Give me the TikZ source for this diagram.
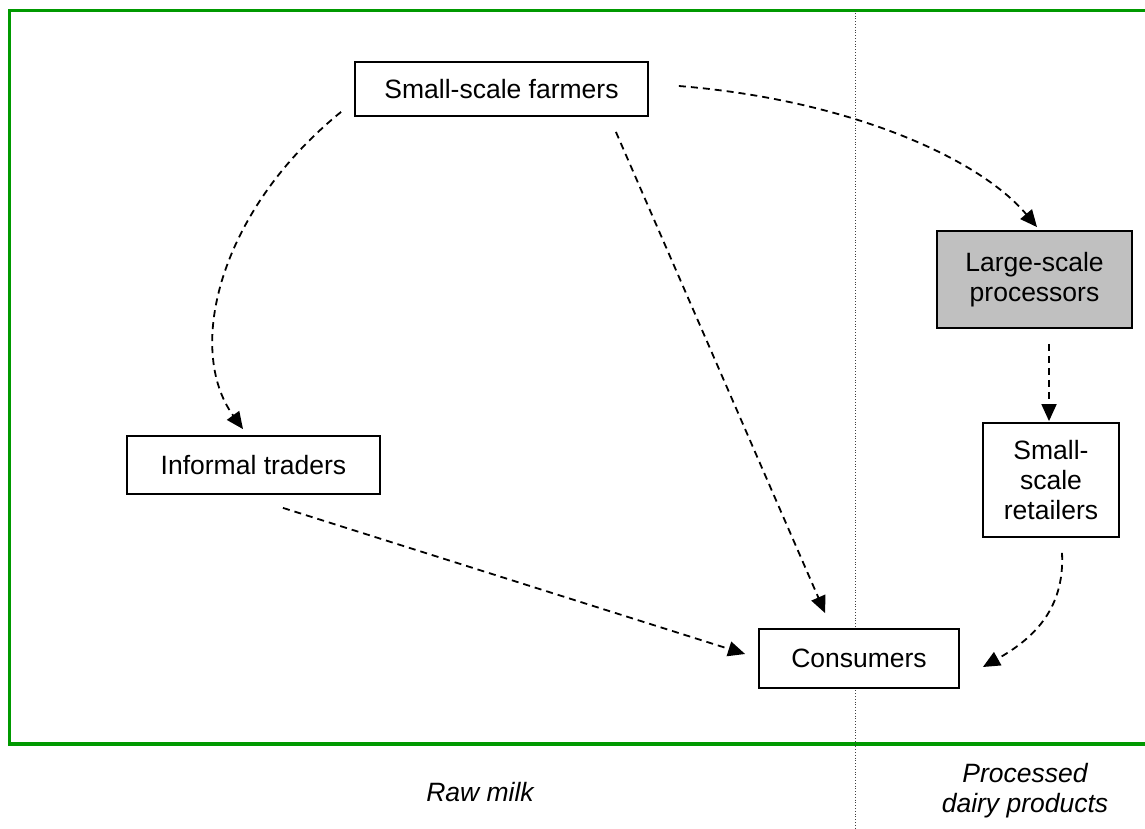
\documentclass[tikz,border=0pt]{standalone}
\usepackage{fontspec}
\setmainfont{Liberation Sans}
\usetikzlibrary{arrows.meta,calc}
\definecolor{frameGreen}{RGB}{0,153,0}
\definecolor{procGray}{RGB}{192,192,192}
\begin{document}
\begin{tikzpicture}[x=1pt,y=-1pt,
  box/.style={draw=black,line width=1.8pt,inner sep=0pt,align=center,
    font=\fontsize{26.5}{30}\selectfont},
  flow/.style={line width=1.8pt,dash pattern=on 7pt off 5pt,
    -{Triangle[length=17pt,width=15pt]}},
  lbl/.style={font=\fontsize{26.5}{30}\selectfont\itshape,align=center}]
\useasboundingbox (0,0) rectangle (1145,828);
% green frame and divider
\draw[frameGreen,line width=3.5pt] (1147,10.5) -- (9.5,10.5) -- (9.5,744) -- (1147,744);
\draw[black!75,line width=0.8pt,dotted] (855.5,10) -- (855.5,828);
% nodes
\node[box,minimum width=293pt,minimum height=54pt] (farmers) at (501.5,89) {Small-scale farmers};
\node[box,fill=procGray,minimum width=195pt,minimum height=97pt] (proc) at (1034.5,279.5) {Large-scale\\processors};
\node[box,fill=white,minimum width=136pt,minimum height=114pt] (retail) at (1051,480) {Small-\\scale\\retailers};
\node[box,minimum width=253pt,minimum height=58pt] (traders) at (253.5,465) {Informal traders};
\node[box,fill=white,minimum width=200pt,minimum height=59pt] (cons) at (859,658.5) {Consumers};
% labels
\node[lbl] (raw) at (480,792) {Raw milk};
\node[lbl] (processed) at (1025,791) {Processed\\dairy products};
% connectors
\draw[flow] ($(farmers.east)+(30,-3)$) .. controls +(172,14) and +(-57,-68) .. ($(proc.north)+(2.5,-3)$);
\draw[flow] ($(farmers.south west)+(-13,-5)$) .. controls +(-122,99) and +(-58,-80) .. ($(traders.north)+(-10.5,-6)$);
\draw[flow] ($(farmers.south east)+(-33,15)$) -- ($(cons.north west)+(67,-15)$);
\draw[flow] ($(traders.south)+(29.5,13)$) -- ($(cons.west)+(-13,-4.5)$);
\draw[flow] ($(proc.south)+(14.5,15)$) -- ($(retail.north)+(-2,-1)$);
\draw[flow] ($(retail.south)+(11,15)$) .. controls +(3,58) and +(48,-27) .. ($(cons.east)+(23,8.5)$);
\end{tikzpicture}
\end{document}
